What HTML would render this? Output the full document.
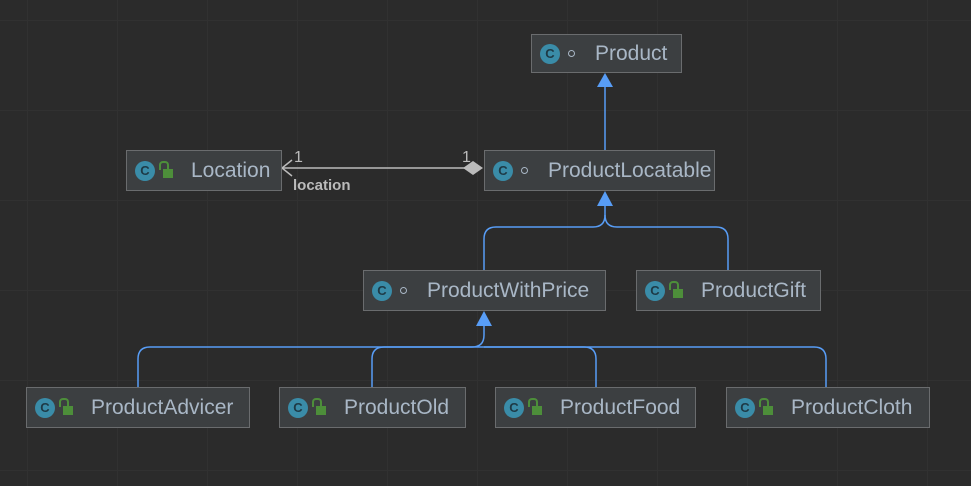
<!DOCTYPE html>
<html><head><style>
body{margin:0;width:971px;height:486px;overflow:hidden;background:#2b2b2b;
background-image:linear-gradient(#313131 1px,transparent 1px),linear-gradient(90deg,#313131 1px,transparent 1px);
background-size:90px 90px;background-position:27px 20px;font-family:"Liberation Sans","DejaVu Sans",sans-serif;position:relative}
.b{position:absolute;box-sizing:border-box;background:#3c3f41;border:1.5px solid #6a6c6e;color:#a9b7c6;font-size:21px;display:flex;align-items:center}
.c{width:20px;height:20px;border-radius:50%;background:#3a8ca8;color:#1e3a46;font-size:13px;font-weight:bold;display:flex;align-items:center;justify-content:center;margin-left:8px;margin-right:8px;flex:none}
.l{width:10px;height:9px;background:#4d8e3a;margin-right:18px;position:relative;margin-top:6px;flex:none}
.l:before{content:"";position:absolute;left:-4px;top:-8px;width:6px;height:7px;border:2px solid #4d8e3a;border-bottom:none;border-radius:4px 4px 0 0}
.d{width:5px;height:5px;border:1px solid #a9b7c6;border-radius:50%;margin-right:20px;flex:none}
svg{position:absolute;left:0;top:0}
</style></head><body>
<svg width="971" height="486">
<g fill="none" stroke="#589df6" stroke-width="1.5">
<path d="M605 85V150"/>
<path d="M605 205V215Q605 227 593 227H496Q484 227 484 239V271"/>
<path d="M605 215Q605 227 617 227H716Q728 227 728 239V271"/>
<path d="M484 325V335Q484 347 472 347H150Q138 347 138 359V387"/>
<path d="M484 347H384Q372 347 372 359V387"/>
<path d="M484 347H584Q596 347 596 359V387"/>
<path d="M484 347H814Q826 347 826 359V387"/>
</g>
<polygon points="605,73 597,87 613,87" fill="#589df6"/>
<polygon points="605,191 597,206 613,206" fill="#589df6"/>
<polygon points="484,311 476,326 492,326" fill="#589df6"/>
<path d="M282 168H465" stroke="#bbb" stroke-width="1.5"/>
<path d="M292 160L282 168L292 176" stroke="#bbb" stroke-width="1.5" fill="none"/>
<polygon points="463,168 473,161 483,168 473,175" fill="#bbb"/>
<text x="294" y="162" fill="#bbb" font-size="16" font-family="Liberation Sans">1</text>
<text x="462" y="162" fill="#bbb" font-size="16" font-family="Liberation Sans">1</text>
<text x="293" y="190" fill="#bbb" font-size="15" font-weight="bold" font-family="Liberation Sans">location</text>
</svg>
<div class="b" style="left:531px;top:34px;width:151px;height:39px"><div class="c">C</div><div class="d"></div>Product</div>
<div class="b" style="left:484px;top:150px;width:231px;height:41px"><div class="c">C</div><div class="d"></div>ProductLocatable</div>
<div class="b" style="left:126px;top:150px;width:156px;height:41px"><div class="c">C</div><div class="l"></div>Location</div>
<div class="b" style="left:363px;top:270px;width:243px;height:41px"><div class="c">C</div><div class="d"></div>ProductWithPrice</div>
<div class="b" style="left:636px;top:270px;width:185px;height:41px"><div class="c">C</div><div class="l"></div>ProductGift</div>
<div class="b" style="left:26px;top:387px;width:224px;height:41px"><div class="c">C</div><div class="l"></div>ProductAdvicer</div>
<div class="b" style="left:279px;top:387px;width:187px;height:41px"><div class="c">C</div><div class="l"></div>ProductOld</div>
<div class="b" style="left:495px;top:387px;width:201px;height:41px"><div class="c">C</div><div class="l"></div>ProductFood</div>
<div class="b" style="left:726px;top:387px;width:204px;height:41px"><div class="c">C</div><div class="l"></div>ProductCloth</div>
</body></html>
